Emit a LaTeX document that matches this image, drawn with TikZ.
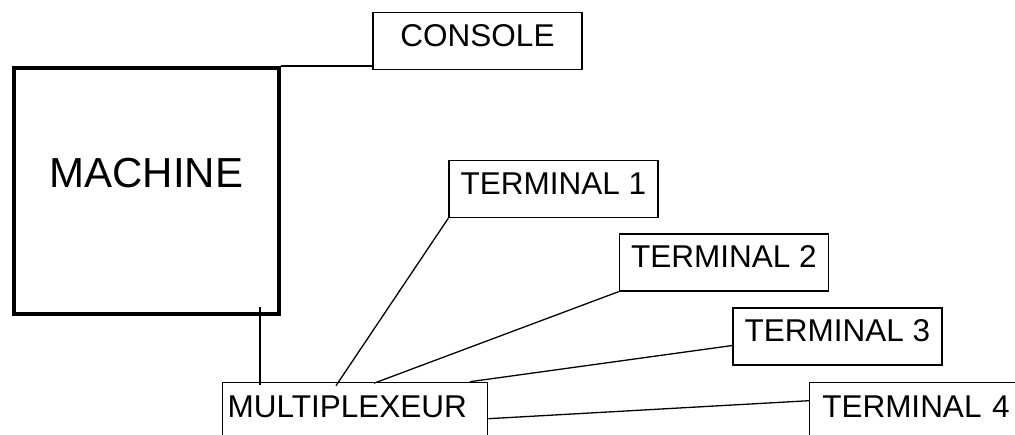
\documentclass[tikz,border=0pt]{standalone}
\usepackage{fontspec}
\setmainfont{Liberation Sans}
\begin{document}
\begin{tikzpicture}[x=1pt,y=-1pt,
  thin line/.style={line width=1.3pt},
  tbox/.style={draw, thin line, inner sep=0pt, font=\fontsize{31.5}{36}\selectfont,
    minimum width=209pt, minimum height=57pt, text height=22.6pt, text depth=12.6pt},
  cutbox/.style={draw, thin line, inner ysep=0pt, font=\fontsize{31.5}{36}\selectfont,
    anchor=north west, align=left, text height=35pt, text depth=45pt},
  mbox/.style={draw, line width=4pt, inner sep=0pt, font=\fontsize{42}{48}\selectfont,
    minimum width=265pt, minimum height=246pt, text height=30pt, text depth=38pt}
]
\useasboundingbox (0,0) rectangle (1015,434);
\clip (0,0) rectangle (1015,434);
\node[mbox] (machine) at (146.5,191) {MACHINE};
\node[tbox] (console) at (477.5,41) {CONSOLE};
\node[tbox] (t1) at (553.5,189) {TERMINAL 1};
\node[tbox] (t2) at (723.8,262.5) {TERMINAL 2};
\node[tbox] (t3) at (837.5,336.5) {TERMINAL 3};
\node[cutbox, inner xsep=5pt, text width=255pt] (mux) at (222,381.7) {MULTIPLEXEUR};
\node[cutbox, inner xsep=12.6pt, text width=200pt] (t4) at (809,381.7) {TERMINAL 4};
\coordinate (m1) at (260,307);
\draw[thin line] (machine.north east) -- (machine.north east -| console.west);
\draw[thin line] (m1) -- ([yshift=-3pt]m1 |- mux.north);
\draw[thin line] (t1.south west) -- ([xshift=114pt,yshift=-4pt]mux.north west);
\draw[thin line] (t2.south west) -- ([xshift=152pt,yshift=-1.5pt]mux.north west);
\draw[thin line] ([yshift=-9pt]t3.west) -- ([xshift=248pt]mux.north west);
\draw[thin line] ([yshift=-19pt]t4.north west) -- ([yshift=-37pt]mux.north east);
\end{tikzpicture}
\end{document}
